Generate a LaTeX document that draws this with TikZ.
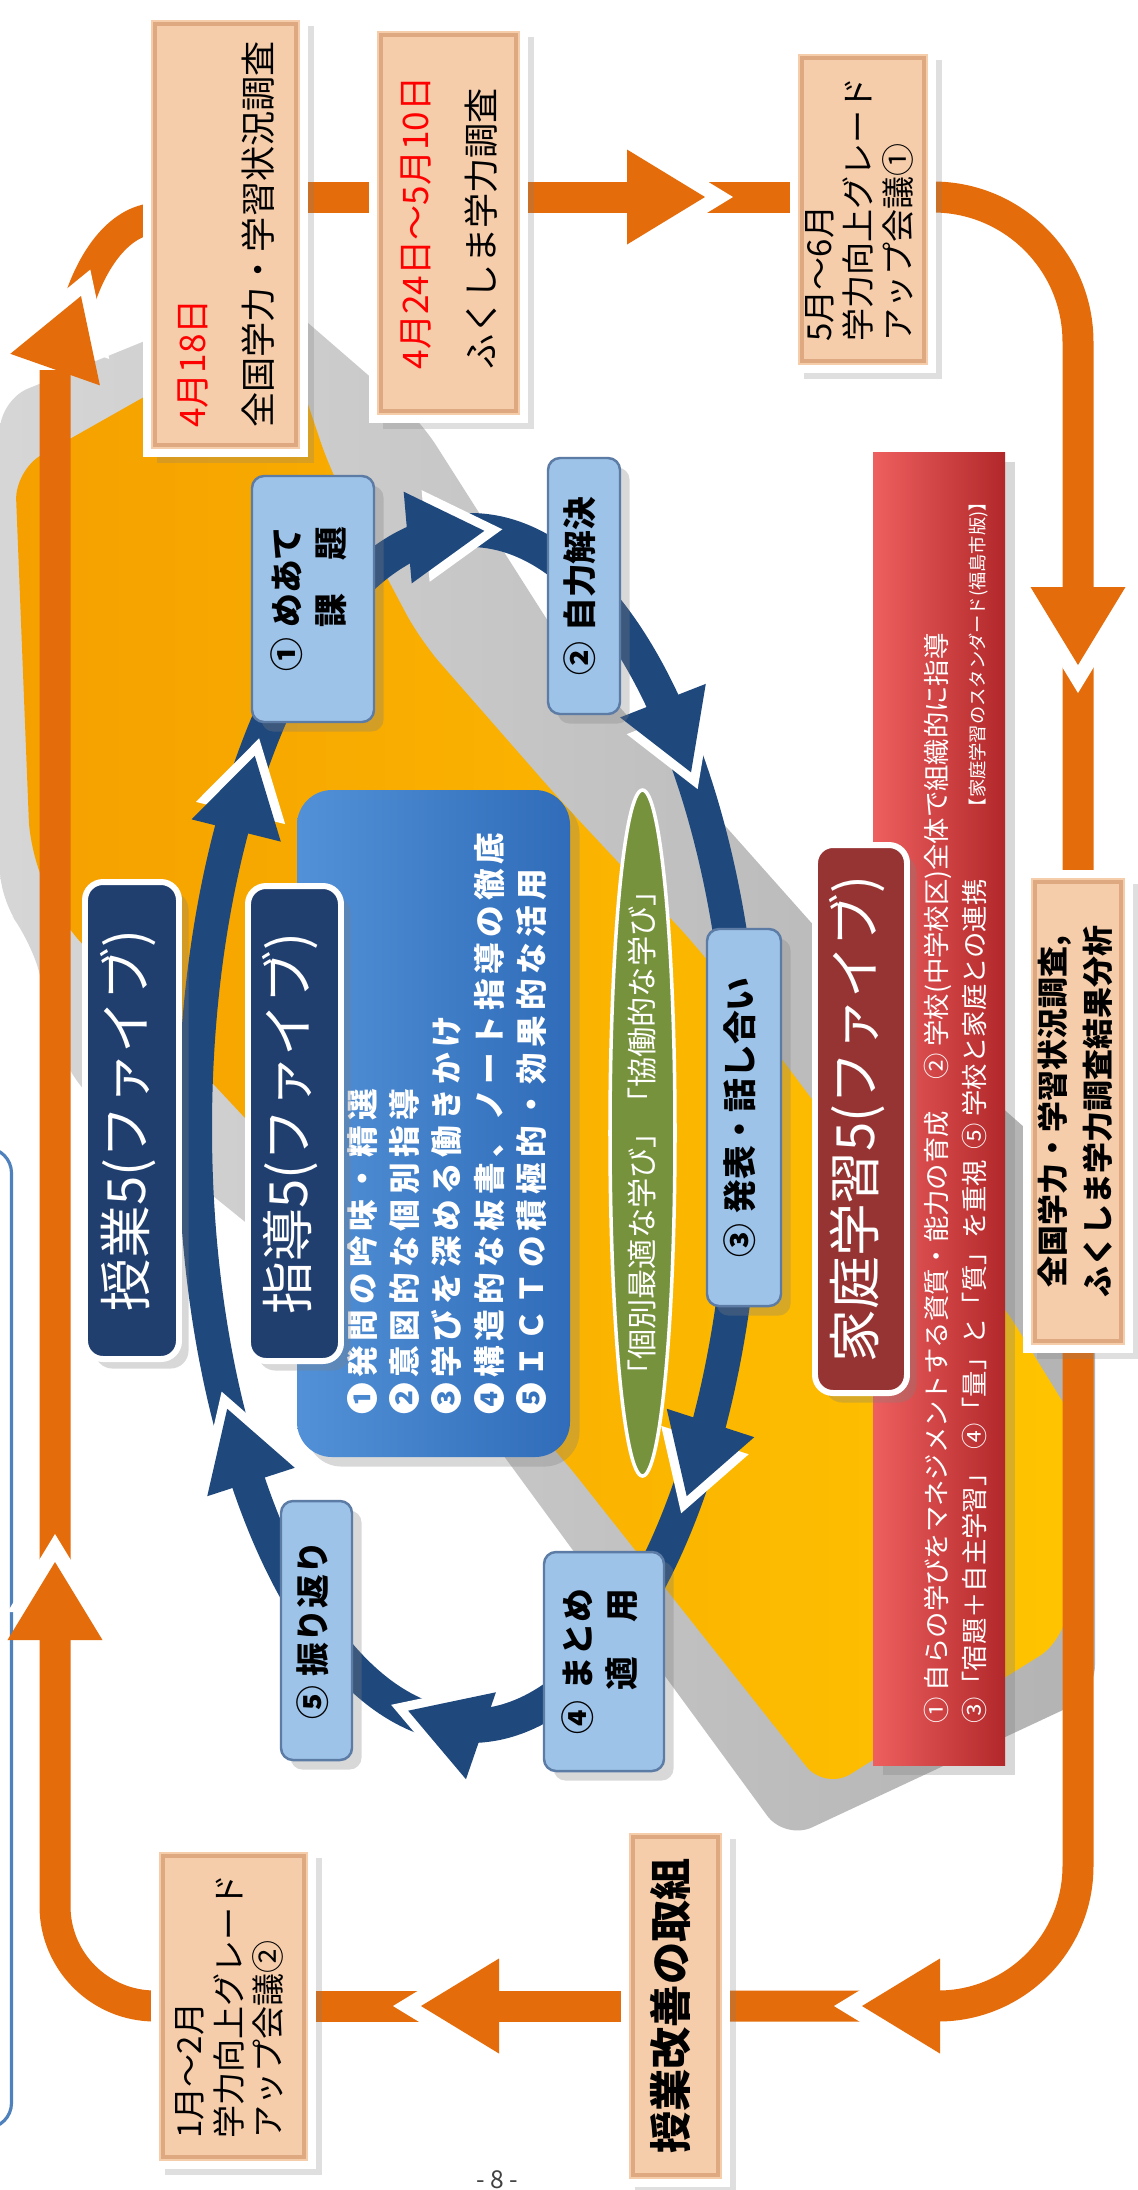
\documentclass[tikz,border=0pt]{standalone}
\usepackage{fontspec}
\setmainfont{Noto Sans CJK JP}
\usepackage{graphicx}
\usetikzlibrary{calc,positioning,shapes.geometric,shadows}
\definecolor{trackOrange}{RGB}{228,108,10}
\definecolor{peach}{RGB}{246,205,171}
\definecolor{peachEdge}{RGB}{222,168,128}
\definecolor{cycleBlue}{RGB}{157,195,233}
\definecolor{cycleEdge}{RGB}{92,124,166}
\definecolor{ringBlue}{RGB}{31,73,125}
\definecolor{navy}{RGB}{32,62,110}
\definecolor{listBlueL}{RGB}{82,145,215}
\definecolor{listBlueR}{RGB}{48,108,185}
\definecolor{leafGreen}{RGB}{118,146,60}
\definecolor{wine}{RGB}{150,52,52}
\definecolor{panelL}{RGB}{238,95,95}
\definecolor{panelR}{RGB}{178,40,42}
\definecolor{trayOrange}{RGB}{245,160,0}
\definecolor{trayYellow}{RGB}{255,196,0}
\definecolor{frameBlue}{RGB}{79,129,189}
\pgfdeclarelayer{bg}
\pgfsetlayers{bg,main}

% text that runs upwards
\newcommand\uptext[2][l]{\rotatebox{90}{\begin{tabular}{@{}#1@{}}#2\end{tabular}}}

\begin{document}
\begin{tikzpicture}[
    datebox/.style={rectangle, fill=peach, draw=white, line width=2.3pt, inner sep=0pt,
                    drop shadow={opacity=0.25}, font=\fontsize{10}{18.5}\selectfont,
                    path picture={\draw[peachEdge, line width=1.2pt]
                      ([shift={(2.2pt,2.2pt)}]path picture bounding box.south west) rectangle
                      ([shift={(-2.2pt,-2.2pt)}]path picture bounding box.north east);}},
    meeting/.style={font=\fontsize{9.4}{11}\selectfont},
    cyclebox/.style={rectangle, rounded corners=0.12cm, fill=cycleBlue, draw=cycleEdge,
                     line width=0.7pt, inner sep=0pt, drop shadow={opacity=0.3},
                     font=\fontsize{9.6}{12.5}\selectfont\bfseries},
    titlebox/.style={rectangle, rounded corners=0.18cm, fill=navy, draw=white,
                     line width=1.7pt, inner sep=0pt, text=white, drop shadow={opacity=0.3},
                     font=\fontsize{15}{18}\selectfont},
    track/.style={trackOrange, line width=0.31cm},
    ring/.style={ringBlue, line width=0.34cm},
    otip/.pic={
      \fill[white] (0.28,0) -- (-0.50,0.475) -- (-0.50,-0.475) -- cycle;
      \fill[trackOrange] (0,0) -- (-0.78,0.475) -- (-0.78,-0.475) -- cycle;
    },
    btip/.pic={
      \fill[white] (0.18,0) -- (-0.59,0.46) -- (-0.59,-0.46) -- cycle;
      \fill[ringBlue] (0,0) -- (-0.77,0.46) -- (-0.77,-0.46) -- cycle;
    }
  ]
  \useasboundingbox (0,0) rectangle (11.38,-21.90);

  % timeline boxes
  \node[datebox, minimum width=1.57cm, minimum height=4.37cm] (apr18) at (2.255,-2.345)
    {\uptext{\textcolor{red}{4月18日}\\全国学力・学習状況調査}};
  \node[datebox, minimum width=1.51cm, minimum height=3.92cm] (apr24) at (4.485,-2.23)
    {\uptext{\textcolor{red}{4月24日～5月10日}\\ふくしま学力調査}};
  \node[datebox, meeting, minimum width=1.38cm, minimum height=3.19cm] (mayjun) at (8.63,-2.095)
    {\uptext{5月～6月\\学力向上グレード\\アップ会議①}};
  \node[datebox, minimum width=1.02cm, minimum height=4.75cm,
        font=\fontsize{8.8}{12.8}\selectfont\bfseries] (survey) at (10.78,-11.115)
    {\uptext[c]{全国学力・学習状況調査,\\ふくしま学力調査結果分析}};
  \node[datebox, minimum width=1.01cm, minimum height=3.54cm,
        font=\fontsize{12}{14}\selectfont\bfseries] (kaizen) at (6.755,-20.06)
    {\uptext{授業改善の取組}};
  \node[datebox, meeting, minimum width=1.57cm, minimum height=3.17cm] (janfeb) at (2.335,-20.065)
    {\uptext{1月～2月\\学力向上グレード\\アップ会議②}};

  % home study panel
  \node[rectangle, left color=panelL, right color=panelR, inner sep=0pt,
        minimum width=1.32cm, minimum height=13.13cm, text=white, drop shadow={opacity=0.3},
        font=\fontsize{7.5}{10.8}\selectfont] (standard) at (9.39,-11.085)
    {\hspace*{0.37cm}\uptext{①\hspace{.25em}自らの学びをマネジメントする資質・能力の育成\hspace{1.2em}②\hspace{.25em}学校(中学校区)全体で組織的に指導\\
      ③「宿題＋自主学習」\hspace{.4em}④「量」と「質」を重視\hspace{.4em}⑤\hspace{.25em}学校と家庭との連携\hspace{2.4em}{\fontsize{5.2}{6}\selectfont【家庭学習のスタンダード(福島市版)】}}};
  \node[titlebox, fill=wine, minimum width=0.92cm, minimum height=5.48cm] (katei) at (8.61,-11.19)
    {\uptext{家庭学習5(ファイブ)}};

  % five points, then the titles over them
  \node[rectangle, rounded corners=0.35cm, left color=listBlueL, right color=listBlueR,
        inner sep=0pt, minimum width=2.73cm, minimum height=6.67cm, text=white,
        drop shadow={opacity=0.3},
        font=\fontsize{9}{12}\selectfont\bfseries\addfontfeatures{LetterSpace=16}] (points) at (4.335,-11.235)
    {\hspace*{0.34cm}\uptext{❶発問の吟味・精選\\❷意図的な個別指導\\❸学びを深める働きかけ\\❹構造的な板書、ノート指導の徹底\\❺ＩＣＴの積極的・効果的な活用}};
  \node[titlebox, minimum width=0.94cm, minimum height=4.77cm] (jugyo) at (1.32,-11.205)
    {\uptext{授業5(ファイブ)}};
  \node[titlebox, minimum width=0.93cm, minimum height=4.75cm] (shido) at (2.945,-11.235)
    {\uptext{指導5(ファイブ)}};
  \node[ellipse, fill=leafGreen, draw=white, line width=1pt, inner sep=0pt,
        minimum width=0.65cm, minimum height=6.86cm, text=white,
        font=\fontsize{8.6}{10}\selectfont] (kobetsu) at (6.425,-11.33)
    {\rotatebox{90}{\makebox[0pt]{「個別最適な学び」「協働的な学び」}}};

  % lesson cycle
  \node[cyclebox, minimum width=1.22cm, minimum height=2.46cm] (meate) at (3.13,-5.99)
    {\uptext{①\hspace{.3em}めあて\\\phantom{①\hspace{.3em}}課　題}};
  \node[cyclebox, minimum width=0.72cm, minimum height=2.56cm] (jiriki) at (5.84,-5.86)
    {\uptext{②\hspace{.3em}自力解決}};
  \node[cyclebox, minimum width=0.74cm, minimum height=3.77cm] (happyo) at (7.44,-11.175)
    {\uptext{③\hspace{.3em}発表・話し合い}};
  \node[cyclebox, minimum width=1.20cm, minimum height=2.19cm] (matome) at (6.04,-16.615)
    {\uptext{④\hspace{.3em}まとめ\\\phantom{④\hspace{.3em}}適　用}};
  \node[cyclebox, minimum width=0.71cm, minimum height=2.59cm] (furikaeri) at (3.165,-16.305)
    {\uptext{⑤\hspace{.3em}振り返り}};

  \node[font=\fontsize{7}{8}\selectfont, text=black!75] (pagenum) at (4.97,-21.80) {- 8 -};

  \begin{pgfonlayer}{bg}
    \fill[white] (0,0) rectangle (11.38,-21.90);
    % tray behind everything
    \shade[left color=black!16, right color=black!30, rounded corners=0.3cm]
      (0,-4.00) -- (2.70,-2.90) -- (4.20,-4.20) -- (5.60,-6.40) -- (7.20,-8.20) -- (8.80,-10.00)
      -- (10.50,-11.50) -- (10.95,-11.90) -- (10.95,-16.95) -- (7.85,-18.40) -- (4.60,-13.96)
      -- (0.70,-10.80) -- (0.30,-9.40) -- (0,-9.00) -- cycle;
    \shade[left color=trayOrange, right color=trayYellow, rounded corners=0.3cm]
      (0.15,-4.70) -- (2.80,-3.20) -- (3.30,-4.70) -- (4.20,-6.40) -- (5.60,-8.00) -- (7.00,-9.50)
      -- (8.50,-11.50) -- (10.00,-13.00) -- (10.80,-14.30) -- (10.65,-16.40) -- (8.25,-17.90)
      -- (5.60,-14.55) -- (0.60,-9.20) -- (0.30,-8.50) -- cycle;
    \draw[frameBlue, line width=0.9pt, rounded corners=0.25cm] (-0.6,-11.48) rectangle (0.115,-21.28);

    % yearly loop
    \coordinate (topln) at (0,-1.97);
    \coordinate (botln) at (0,-20.06);
    \coordinate (lbend) at (0.55,-20.06);
    \coordinate (ltop) at (0.55,-3.70);
    \coordinate (ctip) at (0.81,-2.96);
    \coordinate (aentry) at (1.60,-2.18);
    \draw[track] (apr18.east |- topln) -- (mayjun.west |- topln);
    \draw[track, rounded corners=1.45cm] (mayjun.east |- topln) -- (survey.north |- topln) -- (survey.north);
    \draw[track, rounded corners=1.4cm] (survey.south) -- (survey.south |- botln) -- (kaizen.east |- botln);
    \draw[track] (kaizen.west |- botln) -- (janfeb.east |- botln);
    \draw[track, rounded corners=1cm] (janfeb.west |- botln) -- (lbend) -- (ltop);
    \draw[track] (ctip) .. controls +(0.13,0.37) and +(-0.40,0) .. (aentry);
    \pic[rotate=0] at (7.05,-1.97) {otip};
    \pic[rotate=-90] at (10.78,-6.65) {otip};
    \pic[rotate=180] at (8.62,-20.06) {otip};
    \pic[rotate=180] at (4.21,-20.06) {otip};
    \pic[rotate=90] at (0.55,-15.62) {otip};
    \pic[rotate=70.6] at (ctip) {otip};

    % lesson ring
    \coordinate (ringc) at (4.70,-11.28);
    \draw[ring] (ringc) ellipse [x radius=2.75cm, y radius=5.98cm];
    \pic[rotate=108] at ($(ringc)+(208:2.75cm and 5.98cm)$) {btip};
    \pic[rotate=76] at ($(ringc)+(141.5:2.75cm and 5.98cm)$) {btip};
    \pic[rotate=5] at ($(ringc)+(87:2.75cm and 5.98cm)$) {btip};
    \pic[rotate=-68.6] at ($(ringc)+(36.5:2.75cm and 5.98cm)$) {btip};
    \pic[rotate=-108] at ($(ringc)+(-38:2.75cm and 5.98cm)$) {btip};
    \pic[rotate=161] at ($(ringc)+(-103:2.75cm and 5.98cm)$) {btip};
  \end{pgfonlayer}
\end{tikzpicture}
\end{document}
